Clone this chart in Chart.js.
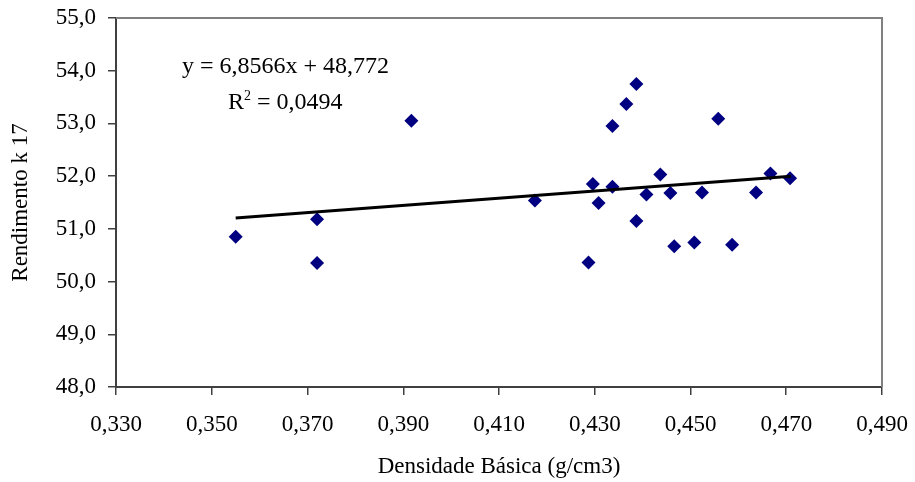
<!DOCTYPE html>
<html>
<head>
<meta charset="utf-8">
<title>Rendimento x Densidade</title>
<script src="https://cdn.jsdelivr.net/npm/chart.js@4.4.0/dist/chart.umd.min.js"></script>
<style>
  html, body { margin: 0; padding: 0; background: #fff; }
  #wrap { width: 915px; height: 482px; }
</style>
</head>
<body>
<div id="wrap"><canvas id="chartCanvas" width="915" height="482"></canvas></div>
<script>
// densidade basica (g/cm3) and rendimento k 17
const densidade = [0.355, 0.372, 0.372, 0.3917, 0.4175, 0.4287, 0.4296, 0.4308, 0.4337, 0.4337,
                   0.4366, 0.4387, 0.4387, 0.4408, 0.4437, 0.4458, 0.4466, 0.4508, 0.4524, 0.4558,
                   0.4587, 0.4637, 0.4667, 0.4708];
const rendimento = [50.85, 51.18, 50.35, 53.05, 51.54, 50.36, 51.85, 51.49, 52.95, 51.80,
                    53.37, 53.75, 51.15, 51.65, 52.03, 51.68, 50.67, 50.74, 51.69, 53.09,
                    50.70, 51.69, 52.05, 51.96];

// linear trend line endpoints
const trendX = [0.355, 0.471];
const trendY = [51.206, 51.998];

// axis ticks
const xTicks = [0.33, 0.35, 0.37, 0.39, 0.41, 0.43, 0.45, 0.47, 0.49];
const yTicks = [48, 49, 50, 51, 52, 53, 54, 55];

const equationText = "y = 6,8566x + 48,772";
const r2Value = " = 0,0494";

const fontFamily = "'Liberation Serif', 'Times New Roman', serif";

const points = densidade.map((d, i) => ({ x: d, y: rendimento[i] }));
const trend = trendX.map((d, i) => ({ x: d, y: trendY[i] }));

// box around plot area (top/right lighter) + equation labels
const decorPlugin = {
    id: 'decor',
    beforeDatasetsDraw(chart) {
        const a = chart.chartArea;
        const ctx = chart.ctx;
        ctx.save();
        ctx.strokeStyle = '#808080';
        ctx.lineWidth = 2;
        ctx.beginPath();
        ctx.moveTo(a.left, a.top);
        ctx.lineTo(a.right, a.top);
        ctx.lineTo(a.right, a.bottom);
        ctx.stroke();
        ctx.restore();
    },
    afterDatasetsDraw(chart) {
        const ctx = chart.ctx;
        ctx.save();
        ctx.fillStyle = '#000';
        ctx.textBaseline = 'alphabetic';
        ctx.font = '24px ' + fontFamily;
        ctx.fillText(equationText, 182, 73);
        ctx.fillText('R', 228, 109);
        const rw = ctx.measureText('R').width;
        ctx.font = '14px ' + fontFamily;
        ctx.fillText('2', 228 + rw, 100);
        const sw = ctx.measureText('2').width;
        ctx.font = '24px ' + fontFamily;
        ctx.fillText(r2Value, 228 + rw + sw, 109);
        ctx.restore();
    }
};

const fmt = (v, d) => v.toFixed(d).replace('.', ',');

new Chart(document.getElementById('chartCanvas').getContext('2d'), {
    type: 'scatter',
    data: {
        datasets: [
            {
                label: 'Rendimento k 17',
                data: points,
                pointStyle: 'rectRot',
                pointRadius: 7,
                pointBackgroundColor: '#000080',
                pointBorderColor: '#000080',
                pointBorderWidth: 0,
                order: 2
            },
            {
                label: 'Tendência',
                type: 'line',
                data: trend,
                borderColor: '#000',
                borderWidth: 3,
                pointRadius: 0,
                fill: false,
                order: 1
            }
        ]
    },
    options: {
        responsive: false,
        animation: false,
        layout: { padding: { left: 0, right: 33, top: 18, bottom: 0 } },
        plugins: {
            legend: { display: false },
            tooltip: { enabled: false }
        },
        scales: {
            x: {
                type: 'linear',
                min: 0.33,
                max: 0.49,
                afterBuildTicks: axis => { axis.ticks = xTicks.map(v => ({ value: v })); },
                afterFit: axis => {
                    axis.height = 95;
                    axis.paddingLeft = 0;
                    axis.paddingRight = 0;
                },
                border: { display: true, color: '#404040', width: 2 },
                grid: { drawOnChartArea: false, drawTicks: true, tickLength: 8, color: '#404040', lineWidth: 1.5 },
                ticks: {
                    color: '#000',
                    padding: 16,
                    maxRotation: 0,
                    font: { family: fontFamily, size: 23 },
                    callback: v => fmt(v, 3)
                },
                title: {
                    display: true,
                    text: 'Densidade Básica (g/cm3)',
                    color: '#000',
                    font: { family: fontFamily, size: 23 },
                    padding: { top: 0, bottom: 1 }
                }
            },
            y: {
                type: 'linear',
                min: 48,
                max: 55,
                afterBuildTicks: axis => { axis.ticks = yTicks.map(v => ({ value: v })); },
                afterFit: axis => {
                    axis.width = 116;
                    axis.paddingTop = 0;
                    axis.paddingBottom = 0;
                },
                border: { display: true, color: '#404040', width: 2 },
                grid: { drawOnChartArea: false, drawTicks: true, tickLength: 8, color: '#404040', lineWidth: 1.5 },
                ticks: {
                    color: '#000',
                    padding: 12,
                    font: { family: fontFamily, size: 23 },
                    callback: v => fmt(v, 1)
                },
                title: {
                    display: true,
                    text: 'Rendimento k 17',
                    color: '#000',
                    font: { family: fontFamily, size: 23 },
                    padding: { top: 7, bottom: 0 }
                }
            }
        }
    },
    plugins: [decorPlugin]
});
</script>
</body>
</html>
